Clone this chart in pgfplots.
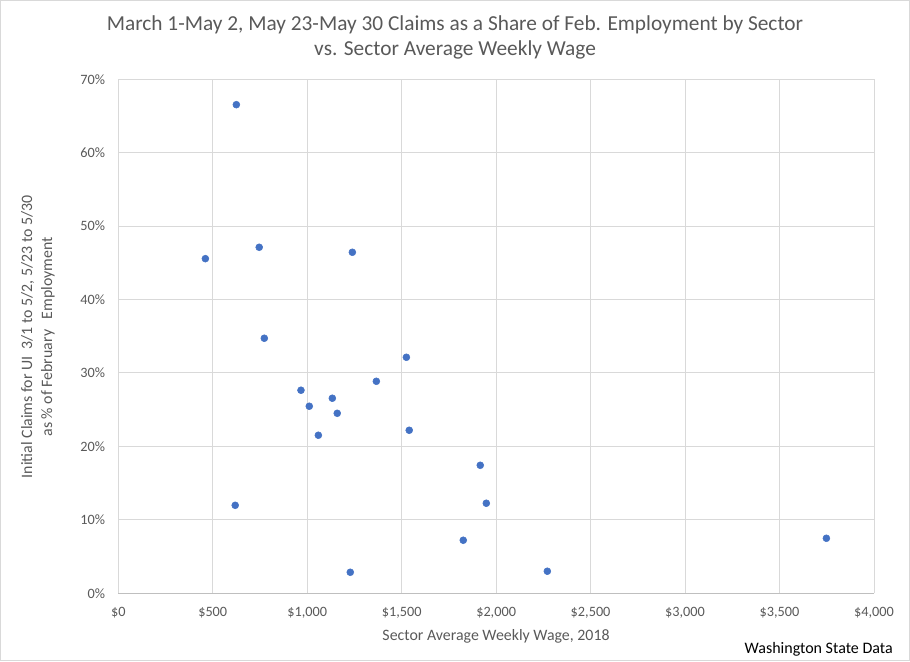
\documentclass[border=0pt]{standalone}
\usepackage{fontspec}
\setmainfont{Carlito}
\usepackage{pgfplots}
\pgfplotsset{compat=1.18}
\definecolor{txt}{HTML}{595959}
\definecolor{grd}{HTML}{D9D9D9}
\definecolor{axl}{HTML}{BFBFBF}
\definecolor{dot}{HTML}{4472C4}
\pgfplotstableread{
x y
625 66.54
461 45.57
746 47.12
1239 46.44
773 34.73
1525 32.14
967 27.65
1011 25.47
1133 26.56
1159 24.51
1059 21.52
1366 28.87
1540 22.20
619 11.98
1228 2.86
1916 17.43
1948 12.26
1826 7.22
2271 3.00
3748 7.49
}\datatable
\begin{document}
\begin{tikzpicture}
\useasboundingbox (0,0) rectangle (682.5pt,495.75pt);
\draw[grd] (0.375pt,0.375pt) rectangle (682.125pt,495.375pt);
\begin{axis}[
  at={(88.7pt,50.8pt)}, anchor=south west,
  scale only axis, width=566.8pt, height=385.5pt,
  xmin=0, xmax=4000, ymin=0, ymax=70,
  xtick={0,500,...,4000}, ytick={0,10,...,70},
  grid=major, major grid style={grd, line width=0.75pt},
  axis line style={draw=none},
  tick style={draw=none},
  /pgf/number format/assume math mode=true,
  /pgf/number format/1000 sep={,},
  xticklabel={\$\pgfmathprintnumber{\tick}},
  yticklabel={\pgfmathprintnumber{\tick}\%},
  ticklabel style={font=\fontsize{10.7}{12}\selectfont, text=txt},
  xticklabel style={yshift=-6.6pt},
  yticklabel style={xshift=-6.4pt},
  clip=false,
]
\draw[axl, line width=0.75pt] (axis cs:0,0) -- (axis cs:4000,0);
\addplot[only marks, mark=*, mark size=2.6pt, mark options={fill=dot, draw=dot}] table[x=x,y=y] {\datatable};
\end{axis}
\node[anchor=base, text=txt, font=\fontsize{16}{19}\selectfont] at (341.25pt,472.7pt) {March 1-May 2, May 23-May 30 Claims as a Share of Feb. Employment by Sector};
\node[anchor=base, text=txt, font=\fontsize{16}{19}\selectfont] at (341.25pt,454.1pt) {vs. Sector Average Weekly Wage};
\node[rotate=90, align=center, text=txt, font=\fontsize{11.9}{15}\selectfont] at (28.5pt,243.2pt) {Initial Claims for UI\ \ 3/1 to 5/2, 5/23 to 5/30\\as \% of February\ \ \ Employment};
\node[anchor=base, text=txt, font=\fontsize{11.9}{14}\selectfont] at (372pt,15.75pt) {Sector Average Weekly Wage, 2018};
\node[anchor=base east, inner sep=0pt, text=black, font=\fontsize{12}{14}\selectfont] at (669.75pt,6pt) {Washington State Data};
\end{tikzpicture}
\end{document}
